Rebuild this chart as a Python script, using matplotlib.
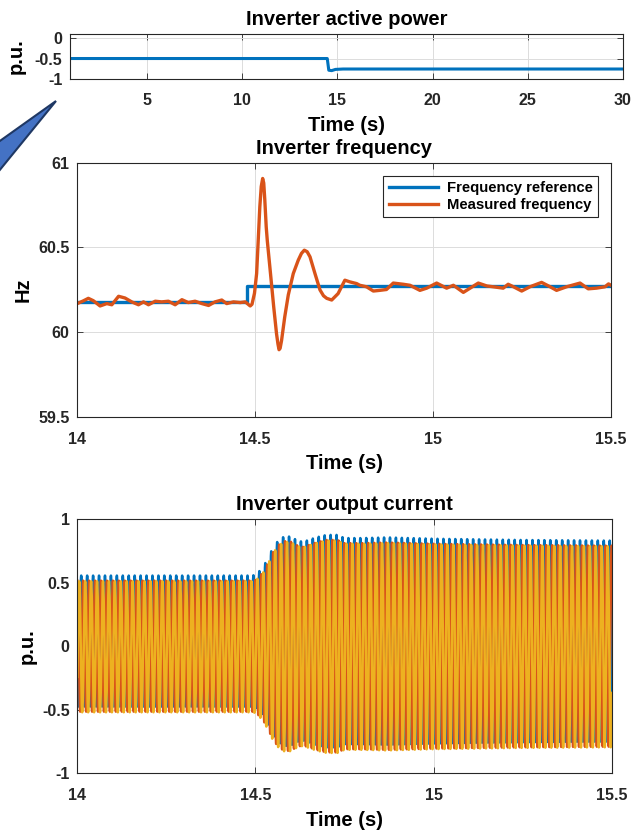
import numpy as np
import matplotlib
matplotlib.use("Agg")
import matplotlib.pyplot as plt
from matplotlib.patches import Polygon

plt.rcParams['font.family'] = ['Liberation Sans', 'DejaVu Sans']
plt.rcParams['font.weight'] = 'bold'

# ---------------- data ----------------
# Inverter active power (p.u.)
power_t = [0.96, 14.47, 14.55, 14.7, 14.9, 15.3, 30.0]
power_v = [-0.50, -0.50, -0.79, -0.80, -0.77, -0.76, -0.76]

# Frequency reference (Hz)
fref_t = [14.0, 14.478, 14.478, 15.5]
fref_v = [60.18, 60.18, 60.27, 60.27]

# Measured frequency (Hz)
fmeas_t = [14.000, 14.017, 14.031, 14.045, 14.064, 14.083, 14.097, 14.116, 14.134,
           14.153, 14.172, 14.186, 14.200, 14.219, 14.237, 14.256, 14.275, 14.294,
           14.312, 14.331, 14.350, 14.369, 14.387, 14.406, 14.420, 14.439, 14.458,
           14.472, 14.486, 14.491, 14.498, 14.504, 14.508, 14.513, 14.517, 14.521,
           14.524, 14.527, 14.531, 14.534, 14.543, 14.552, 14.560, 14.564, 14.567,
           14.570, 14.574, 14.583, 14.593, 14.607, 14.621, 14.630, 14.638, 14.646,
           14.654, 14.668, 14.682, 14.692, 14.701, 14.715, 14.733, 14.752, 14.766,
           14.785, 14.794, 14.813, 14.832, 14.850, 14.869, 14.888, 14.916, 14.935,
           14.963, 14.982, 15.010, 15.038, 15.057, 15.085, 15.104, 15.127, 15.151,
           15.169, 15.197, 15.211, 15.226, 15.249, 15.272, 15.305, 15.329, 15.347,
           15.375, 15.413, 15.436, 15.459, 15.483, 15.493, 15.500]
fmeas_v = [60.169, 60.185, 60.200, 60.186, 60.155, 60.169, 60.162, 60.212, 60.202,
           60.179, 60.162, 60.179, 60.162, 60.183, 60.179, 60.183, 60.162, 60.192,
           60.175, 60.183, 60.169, 60.158, 60.179, 60.190, 60.169, 60.179, 60.175,
           60.179, 60.155, 60.165, 60.230, 60.346, 60.520, 60.740, 60.860, 60.907,
           60.880, 60.780, 60.620, 60.540, 60.346, 60.150, 59.990, 59.930, 59.897,
           59.905, 59.950, 60.090, 60.220, 60.346, 60.425, 60.465, 60.484, 60.475,
           60.445, 60.346, 60.250, 60.215, 60.200, 60.190, 60.228, 60.307, 60.297,
           60.287, 60.277, 60.268, 60.243, 60.247, 60.252, 60.290, 60.283, 60.277,
           60.247, 60.260, 60.290, 60.260, 60.277, 60.235, 60.260, 60.290, 60.273,
           60.268, 60.260, 60.283, 60.268, 60.243, 60.268, 60.294, 60.268, 60.247,
           60.268, 60.290, 60.256, 60.260, 60.268, 60.285, 60.277]

# Output current: amplitude envelope of the three-phase 60 Hz currents (p.u.)
env_t = [14.00, 14.49, 14.50, 14.52, 14.535, 14.55, 14.567, 14.583, 14.60, 14.615,
         14.632, 14.65, 14.67, 14.70, 14.73, 14.75, 14.80, 14.87, 15.00, 15.25, 15.50]
env_v = [0.515, 0.515, 0.52, 0.575, 0.65, 0.74, 0.80, 0.825, 0.82, 0.795,
         0.78, 0.795, 0.815, 0.835, 0.835, 0.81, 0.81, 0.815, 0.805, 0.795, 0.79]
dc_offsets = [0.04, 0.0, -0.005]   # phase a, b, c
grid_freq = 60.0
phase0 = np.pi + 0.57

# ---------------- figure ----------------
W, H = 641, 830
fig = plt.figure(figsize=(W / 100, H / 100), dpi=100)

blue = '#0072BD'
orange = '#D95319'
yellow = '#EDB120'
spine_c = '#262626'
tick_fs = 11.5
title_fs = 14.5


def style(ax):
    for s in ax.spines.values():
        s.set_color(spine_c)
        s.set_linewidth(0.8)
    ax.tick_params(direction='in', which='both', top=True, right=True,
                   length=4, width=0.6, colors=spine_c, labelsize=tick_fs,
                   labelcolor='#262626')
    ax.tick_params(axis='x', pad=10.5)
    ax.tick_params(axis='y', pad=5.5)
    ax.grid(True, color='#dcdcdc', linewidth=0.7)
    ax.set_axisbelow(True)
    for lab in ax.get_xticklabels() + ax.get_yticklabels():
        lab.set_fontweight('bold')


def frac(l, t, r, b):
    return [l / W, 1 - b / H, (r - l) / W, (b - t) / H]


def labels(ax, title, ylab, ycoord):
    ax.set_title(title, fontsize=title_fs, fontweight='bold', pad=6.5)
    ax.set_xlabel('Time (s)', fontsize=title_fs, fontweight='bold', labelpad=5.5)
    ax.set_ylabel(ylab, fontsize=title_fs, fontweight='bold')
    ax.yaxis.set_label_coords(ycoord, 0.5)


# --- top: active power ---
ax1 = fig.add_axes(frac(70, 34.3, 623, 78.7))
ax1.plot(power_t, power_v, color=blue, lw=2.2)
ax1.set_xlim(0.96, 30)
ax1.set_ylim(-1, 0.1)
ax1.set_xticks([5, 10, 15, 20, 25, 30])
ax1.set_xticklabels(['5', '10', '15', '20', '25', '30'])
ax1.set_yticks([-1, -0.5, 0])
ax1.set_yticklabels(['-1', '-0.5', '0'])
style(ax1)
labels(ax1, 'Inverter active power', 'p.u.', -0.080)

# --- middle: frequency ---
ax2 = fig.add_axes(frac(77.3, 162.7, 611, 417))
ax2.plot(fref_t, fref_v, color=blue, lw=2.4, label='Frequency reference')
ax2.plot(fmeas_t, fmeas_v, color=orange, lw=2.4, label='Measured frequency')
ax2.set_xlim(14, 15.5)
ax2.set_ylim(59.5, 61)
ax2.set_xticks([14, 14.5, 15, 15.5])
ax2.set_xticklabels(['14', '14.5', '15', '15.5'])
ax2.set_yticks([59.5, 60, 60.5, 61])
ax2.set_yticklabels(['59.5', '60', '60.5', '61'])
style(ax2)
labels(ax2, 'Inverter frequency', 'Hz', -0.084)
leg = ax2.legend(loc='upper right', prop={'weight': 'bold', 'size': 10.7},
                 fancybox=False, framealpha=1, edgecolor='#262626',
                 handlelength=3.3, borderpad=0.35, labelspacing=0.2,
                 handletextpad=0.6, borderaxespad=0.9)
leg.get_frame().set_linewidth(0.8)

# --- bottom: output current ---
ax3 = fig.add_axes(frac(77.3, 519, 611.7, 773.3))
t = np.linspace(14.0, 15.5, 30001)
env = np.interp(t, env_t, env_v)
theta = 2 * np.pi * grid_freq * (t - 14.0) + phase0
ia = env * np.sin(theta) + dc_offsets[0]
ib = env * np.sin(theta - 2 * np.pi / 3) + dc_offsets[1]
ic = env * np.sin(theta + 2 * np.pi / 3) + dc_offsets[2]
ax3.plot(t, ia, color=blue, lw=1.8)
ax3.plot(t, ib, color=orange, lw=1.8)
ax3.plot(t, ic, color=yellow, lw=1.8)
ax3.set_xlim(14, 15.5)
ax3.set_ylim(-1, 1)
ax3.set_xticks([14, 14.5, 15, 15.5])
ax3.set_xticklabels(['14', '14.5', '15', '15.5'])
ax3.set_yticks([-1, -0.5, 0, 0.5, 1])
ax3.set_yticklabels(['-1', '-0.5', '0', '0.5', '1'])
style(ax3)
labels(ax3, 'Inverter output current', 'p.u.', -0.076)

# callout pointer at the upper left
pts = [(-10, 148), (56, 101), (-10, 182)]
poly = Polygon([(x / W, 1 - y / H) for x, y in pts], closed=True,
               facecolor='#4472C4', edgecolor='#1F3864', lw=1.5,
               transform=fig.transFigure, clip_on=False)
fig.add_artist(poly)

fig.savefig('out.png', dpi=100)
